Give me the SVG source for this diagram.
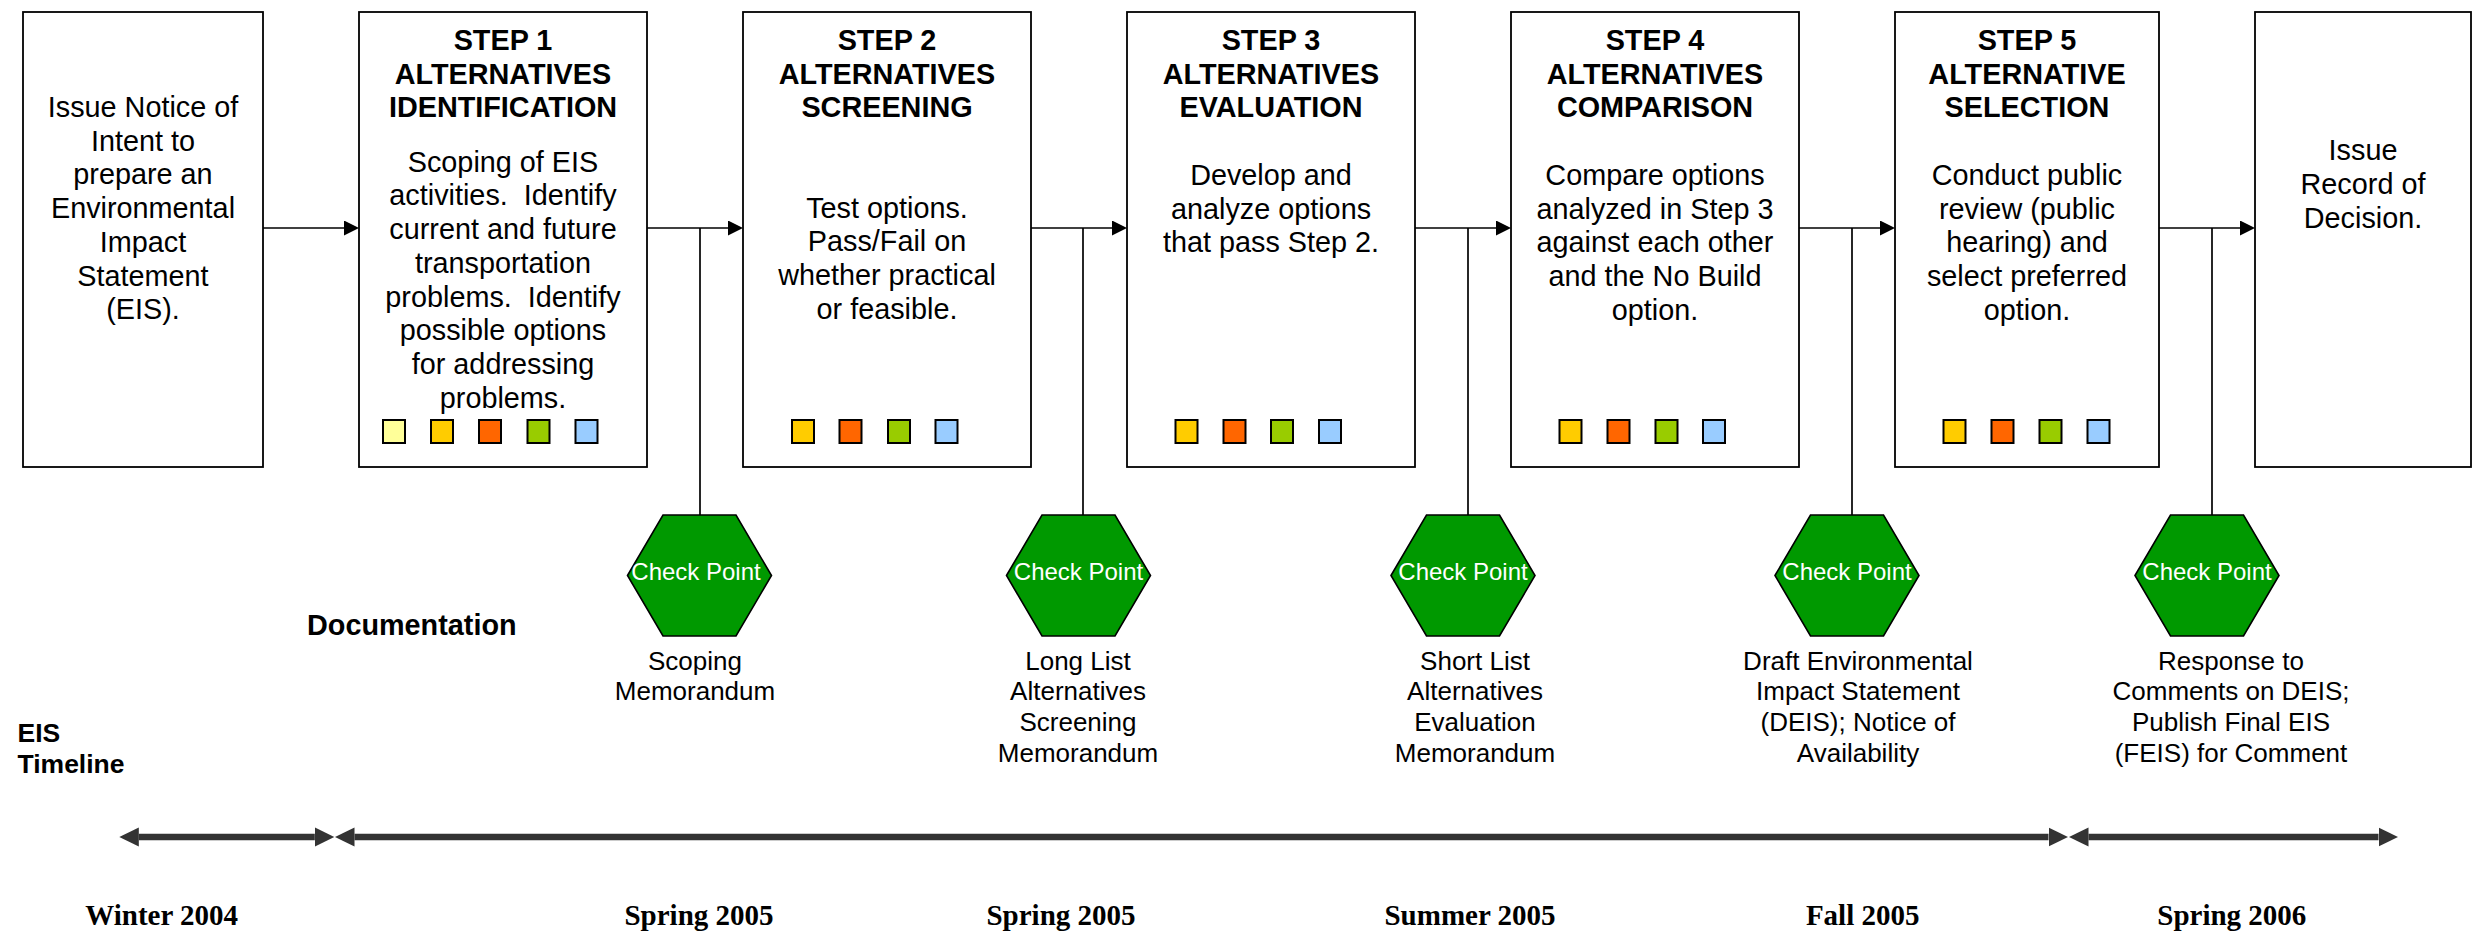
<svg xmlns="http://www.w3.org/2000/svg" width="2482" height="933" viewBox="0 0 2482 933">
<style>
.box{fill:#fff;stroke:#000;stroke-width:1.8}
.t{font-family:"Liberation Sans",Arial,sans-serif;font-size:28.8px;fill:#000;text-anchor:middle}
.b{font-weight:bold}
.pre{white-space:pre}
.hex{fill:#009900;stroke:#000;stroke-width:1.6}
.cpt{font-family:"Liberation Sans",Arial,sans-serif;font-size:24px;fill:#fff;text-anchor:middle}
.lbl{font-family:"Liberation Sans",Arial,sans-serif;font-size:26px;fill:#000;text-anchor:middle}
.season{font-family:"Liberation Serif","Times New Roman",serif;font-size:29px;font-weight:bold;fill:#000;text-anchor:middle}
.side{font-family:"Liberation Sans",Arial,sans-serif;font-weight:bold;fill:#000}
.conn{stroke:#000;stroke-width:1.7;fill:none}
.tl{stroke:#333;stroke-width:6.7;fill:none}
.sq{stroke:#000;stroke-width:2}
.c1{fill:#FFFF99}.c2{fill:#FFCC00}.c3{fill:#FF6600}.c4{fill:#99CC00}.c5{fill:#99CCFF}
</style>
<defs>
<marker id="ah" markerUnits="userSpaceOnUse" markerWidth="16" markerHeight="16" refX="0" refY="7.5" orient="auto" viewBox="0 0 16 16">
<path d="M0,0 L15,7.5 L0,15 z" fill="#000"/>
</marker>
<marker id="th" markerUnits="userSpaceOnUse" markerWidth="20" markerHeight="20" refX="0" refY="9.5" orient="auto-start-reverse" viewBox="0 0 20 19">
<path d="M0,0 L19.5,9.5 L0,19 z" fill="#333"/>
</marker>
</defs>

<g id="connectors">
<line class="conn" x1="263" y1="228" x2="344" y2="228" marker-end="url(#ah)"/>
<line class="conn" x1="647" y1="228" x2="728" y2="228" marker-end="url(#ah)"/>
<line class="conn" x1="1031" y1="228" x2="1112" y2="228" marker-end="url(#ah)"/>
<line class="conn" x1="1415" y1="228" x2="1496" y2="228" marker-end="url(#ah)"/>
<line class="conn" x1="1799" y1="228" x2="1880" y2="228" marker-end="url(#ah)"/>
<line class="conn" x1="2159" y1="228" x2="2240" y2="228" marker-end="url(#ah)"/>
<line class="conn" x1="700" y1="228" x2="700" y2="515"/>
<line class="conn" x1="1083" y1="228" x2="1083" y2="515"/>
<line class="conn" x1="1468" y1="228" x2="1468" y2="515"/>
<line class="conn" x1="1852" y1="228" x2="1852" y2="515"/>
<line class="conn" x1="2212" y1="228" x2="2212" y2="515"/>
</g>

<g id="box0">
<rect class="box" x="23" y="12" width="240" height="455"/>
<text class="t"><tspan x="143" y="117">Issue Notice of</tspan><tspan x="143" y="150.7">Intent to</tspan><tspan x="143" y="184.4">prepare an</tspan><tspan x="143" y="218.1">Environmental</tspan><tspan x="143" y="251.8">Impact</tspan><tspan x="143" y="285.5">Statement</tspan><tspan x="143" y="319.2">(EIS).</tspan></text>
</g>

<g id="step1">
<rect class="box" x="359" y="12" width="288" height="455"/>
<text class="t b"><tspan x="503" y="50">STEP 1</tspan><tspan x="503" y="83.7">ALTERNATIVES</tspan><tspan x="503" y="117.4">IDENTIFICATION</tspan></text>
<text class="t pre" xml:space="preserve"><tspan x="503" y="171.7">Scoping of EIS</tspan><tspan x="503" y="205.4">activities.  Identify</tspan><tspan x="503" y="239.1">current and future</tspan><tspan x="503" y="272.8">transportation</tspan><tspan x="503" y="306.5">problems.  Identify</tspan><tspan x="503" y="340.2">possible options</tspan><tspan x="503" y="373.9">for addressing</tspan><tspan x="503" y="407.6">problems.</tspan></text>
<rect class="sq c1" x="383" y="420" width="22" height="23"/>
<rect class="sq c2" x="431" y="420" width="22" height="23"/>
<rect class="sq c3" x="479" y="420" width="22" height="23"/>
<rect class="sq c4" x="527.5" y="420" width="22" height="23"/>
<rect class="sq c5" x="575.5" y="420" width="22" height="23"/>
</g>

<g id="step2">
<rect class="box" x="743" y="12" width="288" height="455"/>
<text class="t b"><tspan x="887" y="50">STEP 2</tspan><tspan x="887" y="83.7">ALTERNATIVES</tspan><tspan x="887" y="117.4">SCREENING</tspan></text>
<text class="t"><tspan x="887" y="217.7">Test options.</tspan><tspan x="887" y="251.4">Pass/Fail on</tspan><tspan x="887" y="285.1">whether practical</tspan><tspan x="887" y="318.8">or feasible.</tspan></text>
<rect class="sq c2" x="792" y="420" width="22" height="23"/>
<rect class="sq c3" x="839.5" y="420" width="22" height="23"/>
<rect class="sq c4" x="888" y="420" width="22" height="23"/>
<rect class="sq c5" x="935.5" y="420" width="22" height="23"/>
</g>

<g id="step3">
<rect class="box" x="1127" y="12" width="288" height="455"/>
<text class="t b"><tspan x="1271" y="50">STEP 3</tspan><tspan x="1271" y="83.7">ALTERNATIVES</tspan><tspan x="1271" y="117.4">EVALUATION</tspan></text>
<text class="t"><tspan x="1271" y="185">Develop and</tspan><tspan x="1271" y="218.7">analyze options</tspan><tspan x="1271" y="252.4">that pass Step 2.</tspan></text>
<rect class="sq c2" x="1175.5" y="420" width="22" height="23"/>
<rect class="sq c3" x="1223.5" y="420" width="22" height="23"/>
<rect class="sq c4" x="1271" y="420" width="22" height="23"/>
<rect class="sq c5" x="1319" y="420" width="22" height="23"/>
</g>

<g id="step4">
<rect class="box" x="1511" y="12" width="288" height="455"/>
<text class="t b"><tspan x="1655" y="50">STEP 4</tspan><tspan x="1655" y="83.7">ALTERNATIVES</tspan><tspan x="1655" y="117.4">COMPARISON</tspan></text>
<text class="t"><tspan x="1655" y="185">Compare options</tspan><tspan x="1655" y="218.7">analyzed in Step 3</tspan><tspan x="1655" y="252.4">against each other</tspan><tspan x="1655" y="286.1">and the No Build</tspan><tspan x="1655" y="319.8">option.</tspan></text>
<rect class="sq c2" x="1559.5" y="420" width="22" height="23"/>
<rect class="sq c3" x="1607.5" y="420" width="22" height="23"/>
<rect class="sq c4" x="1655.5" y="420" width="22" height="23"/>
<rect class="sq c5" x="1703" y="420" width="22" height="23"/>
</g>

<g id="step5">
<rect class="box" x="1895" y="12" width="264" height="455"/>
<text class="t b"><tspan x="2027" y="50">STEP 5</tspan><tspan x="2027" y="83.7">ALTERNATIVE</tspan><tspan x="2027" y="117.4">SELECTION</tspan></text>
<text class="t"><tspan x="2027" y="185">Conduct public</tspan><tspan x="2027" y="218.7">review (public</tspan><tspan x="2027" y="252.4">hearing) and</tspan><tspan x="2027" y="286.1">select preferred</tspan><tspan x="2027" y="319.8">option.</tspan></text>
<rect class="sq c2" x="1943.5" y="420" width="22" height="23"/>
<rect class="sq c3" x="1991.5" y="420" width="22" height="23"/>
<rect class="sq c4" x="2039.5" y="420" width="22" height="23"/>
<rect class="sq c5" x="2087.5" y="420" width="22" height="23"/>
</g>

<g id="box6">
<rect class="box" x="2255" y="12" width="216" height="455"/>
<text class="t"><tspan x="2363" y="160.4">Issue</tspan><tspan x="2363" y="194.1">Record of</tspan><tspan x="2363" y="227.8">Decision.</tspan></text>
</g>

<g id="checkpoint1">
<polygon class="hex" points="627.5,575.5 663,515 736,515 771.5,575.5 736,636 663,636"/>
<text class="cpt" x="696" y="580">Check Point</text>
<text class="lbl"><tspan x="695" y="669.5">Scoping</tspan><tspan x="695" y="700.2">Memorandum</tspan></text>
</g>
<g id="checkpoint2">
<polygon class="hex" points="1006.5,575.5 1042,515 1115,515 1150.5,575.5 1115,636 1042,636"/>
<text class="cpt" x="1078.5" y="580">Check Point</text>
<text class="lbl"><tspan x="1078" y="669.5">Long List</tspan><tspan x="1078" y="700.2">Alternatives</tspan><tspan x="1078" y="730.9">Screening</tspan><tspan x="1078" y="761.6">Memorandum</tspan></text>
</g>
<g id="checkpoint3">
<polygon class="hex" points="1391,575.5 1426.5,515 1499.5,515 1535,575.5 1499.5,636 1426.5,636"/>
<text class="cpt" x="1463" y="580">Check Point</text>
<text class="lbl"><tspan x="1475" y="669.5">Short List</tspan><tspan x="1475" y="700.2">Alternatives</tspan><tspan x="1475" y="730.9">Evaluation</tspan><tspan x="1475" y="761.6">Memorandum</tspan></text>
</g>
<g id="checkpoint4">
<polygon class="hex" points="1775,575.5 1810.5,515 1883.5,515 1919,575.5 1883.5,636 1810.5,636"/>
<text class="cpt" x="1847" y="580">Check Point</text>
<text class="lbl"><tspan x="1858" y="669.5">Draft Environmental</tspan><tspan x="1858" y="700.2">Impact Statement</tspan><tspan x="1858" y="730.9">(DEIS); Notice of</tspan><tspan x="1858" y="761.6">Availability</tspan></text>
</g>
<g id="checkpoint5">
<polygon class="hex" points="2135,575.5 2170.5,515 2243.5,515 2279,575.5 2243.5,636 2170.5,636"/>
<text class="cpt" x="2207" y="580">Check Point</text>
<text class="lbl"><tspan x="2231" y="669.5">Response to</tspan><tspan x="2231" y="700.2">Comments on DEIS;</tspan><tspan x="2231" y="730.9">Publish Final EIS</tspan><tspan x="2231" y="761.6">(FEIS) for Comment</tspan></text>
</g>

<g id="side-labels">
<text class="side" x="307" y="635" font-size="28.8">Documentation</text>
<text class="side" font-size="26.5"><tspan x="17.5" y="742">EIS</tspan><tspan x="17.5" y="773">Timeline</tspan></text>
</g>

<g id="timeline">
<line class="tl" x1="138.8" y1="837" x2="314.8" y2="837" marker-start="url(#th)" marker-end="url(#th)"/>
<line class="tl" x1="354.5" y1="837" x2="2048.5" y2="837" marker-start="url(#th)" marker-end="url(#th)"/>
<line class="tl" x1="2088.5" y1="837" x2="2378.5" y2="837" marker-start="url(#th)" marker-end="url(#th)"/>
<text class="season" x="161.7" y="925">Winter 2004</text>
<text class="season" x="699" y="925">Spring 2005</text>
<text class="season" x="1061" y="925">Spring 2005</text>
<text class="season" x="1470" y="925">Summer 2005</text>
<text class="season" x="1862.7" y="925">Fall 2005</text>
<text class="season" x="2231.8" y="925">Spring 2006</text>
</g>
</svg>
